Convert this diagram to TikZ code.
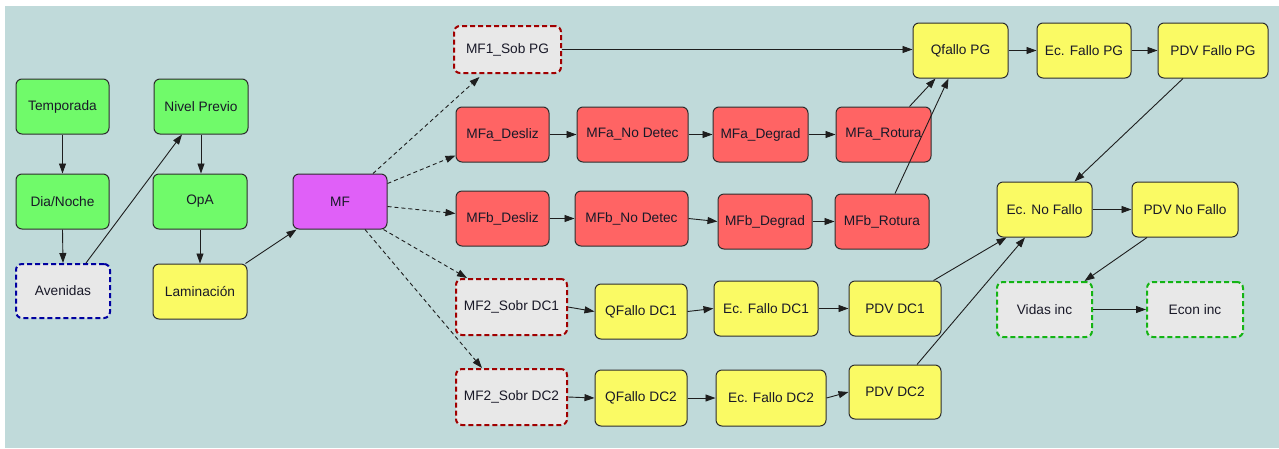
\documentclass[tikz,border=0pt]{standalone}
\usepackage{fontspec}
\setmainfont{Liberation Sans}
\usetikzlibrary{arrows.meta,calc}
\definecolor{bgc}{RGB}{192,218,218}
\definecolor{gfill}{RGB}{112,250,106}
\definecolor{yfill}{RGB}{250,250,100}
\definecolor{rfill}{RGB}{255,100,100}
\definecolor{mfill}{RGB}{224,96,248}
\definecolor{grayfill}{RGB}{232,232,232}
\definecolor{boxline}{RGB}{45,45,45}
\definecolor{linec}{RGB}{30,30,30}
\definecolor{txtc}{RGB}{25,25,40}
\definecolor{dred}{RGB}{160,0,0}
\definecolor{dblue}{RGB}{0,0,160}
\definecolor{dgreen}{RGB}{20,180,20}
\begin{document}
\begin{tikzpicture}[x=1pt,y=-1pt,
  box/.style={draw=boxline, line width=1pt, rounded corners=6pt, inner sep=0pt,
    font=\fontsize{13.7}{16}\selectfont, text=txtc},
  gbox/.style={box, fill=gfill},
  ybox/.style={box, fill=yfill},
  rbox/.style={box, fill=rfill},
  mbox/.style={box, fill=mfill},
  dashbox/.style={box, fill=grayfill, line width=2pt, dash pattern=on 5pt off 3pt},
  redd/.style={dashbox, draw=dred},
  blued/.style={dashbox, draw=dblue},
  greend/.style={dashbox, draw=dgreen},
  sz/.style 2 args={minimum width=#1pt, minimum height=#2pt},
  conn/.style={draw=linec, line width=0.9pt, -{Triangle[length=10pt,width=7pt]}},
  dconn/.style={conn, dash pattern=on 4pt off 3pt}
]
\useasboundingbox (0,0) rectangle (1279,448);
\fill[white] (0,0) rectangle (1279,448);
\fill[bgc] (5,6) rectangle (1279,448);

% left column
\node[gbox, sz={93}{55}] (temp) at (62.5,106.5) {Temporada};
\node[gbox, sz={94}{55}] (nivel) at (201,106.5) {Nivel Previo};
\node[gbox, sz={93}{55}] (dia) at (62.5,201.5) {Dia/Noche};
\node[gbox, sz={94}{55}] (opa) at (200,201.5) {OpA};
\node[blued, sz={94}{54}] (aven) at (63,291) {Avenidas};
\node[ybox, sz={94}{55}] (lam) at (200,291.5) {Laminación};
\node[mbox, sz={94}{55}] (mf) at (340,201.5) {MF};

% top row
\node[redd, sz={107}{47}] (mf1) at (507.5,49.5) {MF1\_Sob PG};
\node[ybox, sz={95}{55}] (qpg) at (960.5,50.5) {Qfallo PG};
\node[ybox, sz={94}{55}] (ecpg) at (1084,50.5) {Ec. Fallo PG};
\node[ybox, sz={110}{55}] (pdvpg) at (1213,50.5) {PDV Fallo PG};

% MFa row
\node[rbox, sz={93}{55}] (mfad) at (502.5,134.5) {MFa\_Desliz};
\node[rbox, sz={111}{55}] (mfan) at (632.5,134.5) {MFa\_No Detec};
\node[rbox, sz={95}{55}] (mfag) at (760.5,134.5) {MFa\_Degrad};
\node[rbox, sz={95}{55}] (mfar) at (883.5,134.5) {MFa\_Rotura};

% MFb row
\node[rbox, sz={93}{55}] (mfbd) at (502.5,218.5) {MFb\_Desliz};
\node[rbox, sz={113}{55}] (mfbn) at (631.5,218.5) {MFb\_No Detec};
\node[rbox, sz={94}{55}] (mfbg) at (765,221.5) {MFb\_Degrad};
\node[rbox, sz={94}{55}] (mfbr) at (882,221.5) {MFb\_Rotura};

% right middle
\node[ybox, sz={95}{55}] (ecnf) at (1044.5,209.5) {Ec. No Fallo};
\node[ybox, sz={106}{55}] (pdvnf) at (1185,209.5) {PDV No Fallo};
\node[greend, sz={95}{55}] (vidas) at (1044.5,309.5) {Vidas inc};
\node[greend, sz={96}{55}] (econ) at (1195,309.5) {Econ inc};

% DC1 row
\node[redd, sz={111}{56}] (mf2a) at (511.5,307) {MF2\_Sobr DC1};
\node[ybox, sz={92}{55}] (qdc1) at (641,311.5) {QFallo DC1};
\node[ybox, sz={104}{55}] (ecdc1) at (766,308.5) {Ec. Fallo DC1};
\node[ybox, sz={92}{55}] (pdvdc1) at (895,308.5) {PDV DC1};

% DC2 row
\node[redd, sz={111}{56}] (mf2b) at (511.5,397) {MF2\_Sobr DC2};
\node[ybox, sz={92}{56}] (qdc2) at (641,398) {QFallo DC2};
\node[ybox, sz={110}{56}] (ecdc2) at (771,398) {Ec. Fallo DC2};
\node[ybox, sz={92}{54}] (pdvdc2) at (895,392) {PDV DC2};

% connectors, left part
\draw[conn] (temp.south) -- (dia.north);
\draw[conn] (dia.south) -- (aven.north);
\draw[conn] ($(aven.north)+(23,0)$) -- ($(nivel.south)+(-19,0)$);
\draw[conn] (nivel.south) -- (nivel.south |- opa.north);
\draw[conn] (opa.south) -- (lam.north);
\draw[conn] ($(lam.north east)+(-2,0)$) -- ($(mf.south west)+(4,0)$);

% from MF (dashed)
\draw[dconn] ($(mf.north)+(33,0)$) -- ($(mf1.south)+(-28,3)$);
\draw[dconn] ($(mf.east)+(0,-18)$) -- ($(mfad.west)+(0,21)$);
\draw[dconn] ($(mf.east)+(0,5)$) -- ($(mfbd.west)+(0,-5)$);
\draw[dconn] ($(mf.south east)+(-4,0)$) -- ($(mf2a.north west)+(12,0)$);
\draw[dconn] ($(mf.south)+(25,0)$) -- ($(mf2b.north west)+(27,0)$);

% top row
\draw[conn] (mf1.east) -- (mf1.east -| qpg.west);
\draw[conn] (qpg.east) -- (ecpg.west);
\draw[conn] (ecpg.east) -- (pdvpg.west);

% MFa chain
\draw[conn] (mfad.east) -- (mfan.west);
\draw[conn] (mfan.east) -- (mfag.west);
\draw[conn] (mfag.east) -- (mfar.west);
\draw[conn] ($(mfar.north)+(26,0)$) -- ($(qpg.south)+(-25,0)$);

% MFb chain
\draw[conn] (mfbd.east) -- (mfbn.west);
\draw[conn] (mfbn.east) -- (mfbg.west);
\draw[conn] (mfbg.east) -- (mfbr.west);
\draw[conn] ($(mfbr.north)+(13,0)$) -- ($(qpg.south)+(-12,0)$);

% right side
\draw[conn] ($(pdvpg.south)+(-30,0)$) -- ($(ecnf.north)+(30,0)$);
\draw[conn] (ecnf.east) -- (pdvnf.west);
\draw[conn] ($(pdvnf.south)+(-38,0)$) -- ($(vidas.north)+(40,0)$);
\draw[conn] (vidas.east) -- (econ.west);

% DC1 chain
\draw[conn] (mf2a.east) -- (qdc1.west);
\draw[conn] (qdc1.east) -- (ecdc1.west);
\draw[conn] (ecdc1.east) -- (pdvdc1.west);
\draw[conn] ($(pdvdc1.north east)+(-8,0)$) -- ($(ecnf.south west)+(10,0)$);

% DC2 chain
\draw[conn] (mf2b.east) -- (qdc2.west);
\draw[conn] (qdc2.east) -- (ecdc2.west);
\draw[conn] (ecdc2.east) -- (pdvdc2.west);
\draw[conn] ($(pdvdc2.north)+(22,0)$) -- ($(ecnf.south)+(-19.5,0)$);
\end{tikzpicture}
\end{document}
